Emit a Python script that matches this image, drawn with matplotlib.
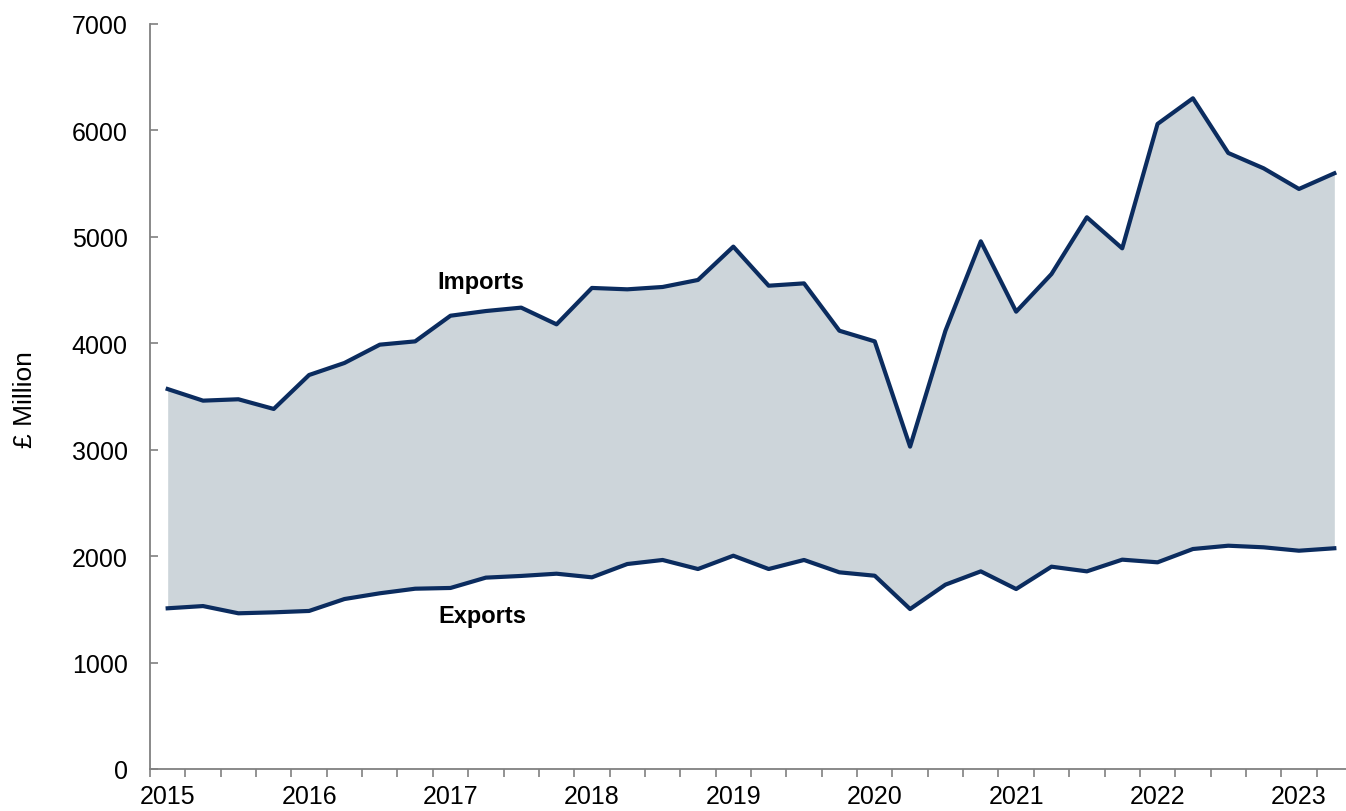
import matplotlib
matplotlib.use("Agg")
import matplotlib.pyplot as plt
import numpy as np

plt.rcParams['font.family'] = ['Liberation Sans', 'DejaVu Sans']

# quarterly trade, 2015 Q1 .. 2023 Q2 (£ million)
years = ['2015', '2016', '2017', '2018', '2019', '2020', '2021', '2022', '2023']
imports = [3570, 3461, 3474, 3383, 3702, 3815, 3987, 4018,
           4259, 4303, 4335, 4178, 4520, 4507, 4529, 4595,
           4908, 4541, 4563, 4118, 4018, 3029, 4118, 4958,
           4297, 4651, 5184, 4892, 6061, 6302, 5788, 5644,
           5450, 5597]
exports = [1510, 1531, 1463, 1472, 1485, 1597, 1651, 1694,
           1701, 1798, 1814, 1835, 1801, 1926, 1964, 1879,
           2004, 1879, 1964, 1848, 1816, 1503, 1732, 1857,
           1691, 1901, 1857, 1967, 1942, 2067, 2098, 2083,
           2051, 2074]

line_col = '#0b2c5f'
fill_col = '#cdd5da'
axis_col = '#808080'

x = np.arange(len(imports))

fig = plt.figure(figsize=(13.46, 8.12), dpi=100)
ax = fig.add_axes([150 / 1346, 42 / 812, 1202 / 1346, 745 / 812])

ax.fill_between(x, exports, imports, color=fill_col, linewidth=0)
ax.plot(x, imports, color=line_col, lw=3)
ax.plot(x, exports, color=line_col, lw=3)

ax.set_xlim(-0.5, len(imports) - 0.5)
ax.set_ylim(0, 7000)
ax.set_yticks(range(0, 7001, 1000))

ax.set_xticks(np.arange(0, len(imports), 4))
ax.set_xticklabels(years)
ax.set_xticks(np.arange(-0.5, len(imports) + 0.5, 1), minor=True)

for s in ['top', 'right']:
    ax.spines[s].set_visible(False)
for s in ['left', 'bottom']:
    ax.spines[s].set_color(axis_col)
    ax.spines[s].set_linewidth(1.3)

ax.tick_params(axis='y', direction='in', length=6, width=1.2, color=axis_col,
               labelsize=18, pad=16)
ax.tick_params(axis='x', which='major', length=0, labelsize=18, pad=11)
ax.tick_params(axis='x', which='minor', direction='out', length=6, width=1.2,
               color=axis_col)

ax.text(8.86, 4585, 'Imports', fontsize=17, fontweight='bold',
        ha='center', va='center')
ax.text(8.89, 1438, 'Exports', fontsize=17, fontweight='bold',
        ha='center', va='center')

fig.text(25 / 1346, 1 - 400 / 812, '£ Million', rotation=90, fontsize=19,
         ha='center', va='center')

fig.savefig('out.png', dpi=100)
